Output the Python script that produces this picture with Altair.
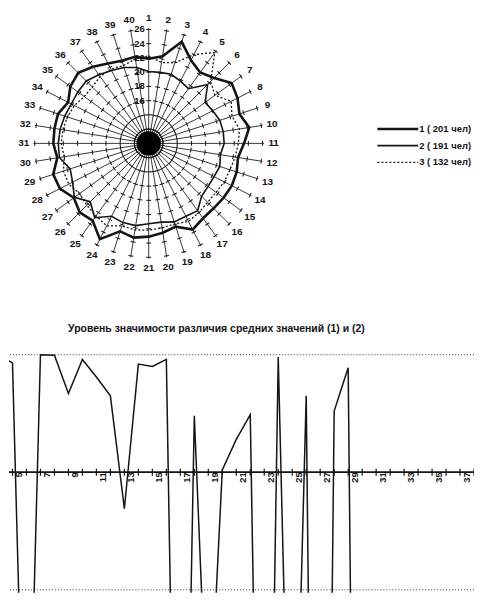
import altair as alt
import pandas as pd

# ---------------- data ----------------
spokes = list(range(1, 41))
series_names = ["1 ( 201 чел)", "2 ( 191 чел)", "3 ( 132 чел)"]
g1 = [21.9, 22.4, 25.0, 23.1, 22.3, 23.0, 24.4, 24.0, 23.4, 24.3,
      23.4, 22.7, 23.0, 23.1, 23.0, 22.9, 23.0, 23.6, 22.3, 22.7,
      23.1, 23.4, 23.0, 25.1, 23.4, 23.7, 23.0, 24.0, 24.1, 23.0,
      23.4, 23.4, 23.4, 22.7, 23.6, 24.0, 23.3, 22.6, 22.2, 22.3]
g2 = [20.1, 20.1, 20.2, 19.8, 19.5, 21.7, 19.8, 20.1, 20.5, 20.6,
      20.6, 20.2, 20.5, 20.3, 20.3, 20.5, 21.7, 21.5, 21.6, 21.2,
      21.3, 21.7, 21.7, 21.5, 22.9, 21.6, 22.9, 22.0, 21.6, 22.7,
      22.7, 22.6, 22.4, 22.2, 22.3, 22.4, 21.9, 21.5, 21.2, 20.8]
g3 = [22.3, 21.5, 21.9, 24.0, 25.8, 22.3, 21.5, 23.0, 22.3, 22.9,
      22.6, 22.3, 22.0, 21.9, 21.7, 21.7, 22.0, 22.3, 21.9, 22.0,
      22.2, 22.3, 22.2, 23.0, 22.6, 22.3, 22.0, 22.6, 22.6, 22.0,
      22.3, 22.2, 22.0, 21.7, 21.2, 21.2, 21.6, 21.7, 21.5, 22.0]
scale_ticks = [12, 14, 16, 18, 20, 22, 24, 26]
scale_labels = [16, 18, 20, 22, 24, 26]
scale_min = [10]

sig_x = list(range(4, 31))
sig_y = [1.0, 0.93, -3.5, 1.0, 0.995, 0.67, 0.96, 0.81, 0.65, -0.31,
         0.92, 0.90, 0.96, -6.0, 0.48, -2.4, 0.02, 0.28, 0.49, -6.5,
         0.98, -3.9, 0.65, -10.5, 0.52, 0.89, -10.9]
limits = [1, -1]
axis_ticks = list(range(5, 39))
axis_labels = list(range(5, 38, 2))
title_text = "Уровень значимости различия средних значений (1) и (2)"

# ---------------- helpers ----------------
FONT = "Liberation Sans"
INK = "#141414"
PX_PER_UNIT = 7.15
V0 = 10
SPOKE_END = 26.2
LABEL_R = 27.55
STYLES = [dict(strokeWidth=2.6), dict(strokeWidth=1.6), dict(strokeWidth=1.3, strokeDash=[2, 2])]


def xexpr(v):
    return f"({v} - {V0}) * {PX_PER_UNIT} * sin((datum.k - 1) * PI / 20)"


def yexpr(v):
    return f"({v} - {V0}) * {PX_PER_UNIT} * cos((datum.k - 1) * PI / 20)"


rx = alt.Scale(domain=[-140.3, 159.7], nice=False, zero=False)
ry = alt.Scale(domain=[-155.3, 134.7], nice=False, zero=False)


def X(f):
    return alt.X(f, scale=rx, axis=None)


def Y(f):
    return alt.Y(f, scale=ry, axis=None)


# ---------------- radar ----------------
spoke_df = pd.DataFrame({"k": spokes})
tick_df = pd.DataFrame([{"k": k, "value": v} for k in spokes for v in scale_ticks])
slab_df = pd.DataFrame({"k": [1] * len(scale_labels), "value": scale_labels})
center_df = pd.DataFrame({"k": [1], "value": scale_min})

spoke_layer = alt.Chart(spoke_df).transform_calculate(
    x0="0", y0="0", ex=xexpr(SPOKE_END), ey=yexpr(SPOKE_END)
).mark_rule(color=INK, strokeWidth=0.85).encode(
    x=X("x0:Q"), y=Y("y0:Q"), x2="ex:Q", y2="ey:Q"
)

tick_layer = alt.Chart(tick_df).transform_calculate(
    px=xexpr("datum.value"), py=yexpr("datum.value"), deg="(datum.k - 1) * 9"
).mark_point(shape="M-1,0L1,0", size=25, filled=False, color=INK, strokeWidth=1, opacity=1).encode(
    x=X("px:Q"), y=Y("py:Q"), angle=alt.Angle("deg:Q", scale=None)
)

center_layer = alt.Chart(center_df).transform_calculate(
    px=xexpr("datum.value"), py=yexpr("datum.value")
).mark_circle(size=600, color="#000", opacity=1).encode(x=X("px:Q"), y=Y("py:Q"))

poly_layers = []
for name, vals, st in zip(series_names, [g1, g2, g3], STYLES):
    ks = spokes + [spokes[0]]
    vv = vals + [vals[0]]
    df = pd.DataFrame({"k": ks, "value": vv, "ord": list(range(len(ks)))})
    poly_layers.append(
        alt.Chart(df).transform_calculate(
            px=xexpr("datum.value"), py=yexpr("datum.value")
        ).mark_line(color=INK, strokeJoin="miter", **st).encode(
            x=X("px:Q"), y=Y("py:Q"), order="ord:Q"
        )
    )

spoke_lab = alt.Chart(spoke_df).transform_calculate(
    px=xexpr(LABEL_R), py=yexpr(LABEL_R)
).mark_text(font=FONT, fontSize=10, fontWeight="bold", color=INK, baseline="middle").encode(
    x=X("px:Q"), y=Y("py:Q"), text="k:N"
)

scale_lab = alt.Chart(slab_df).transform_calculate(
    px=xexpr("datum.value"), py=yexpr("datum.value")
).mark_text(font=FONT, fontSize=9.5, fontWeight="bold", color=INK, align="right", dx=-4, baseline="middle").encode(
    x=X("px:Q"), y=Y("py:Q"), text="value:N"
)

radar = alt.layer(spoke_layer, tick_layer, center_layer, *poly_layers, spoke_lab, scale_lab).properties(
    width=300, height=290
)

# ---------------- legend panel ----------------
ly_scale = alt.Scale(domain=[-7.204, 10.162], nice=False, zero=False, reverse=True)
leg_layers = []
for i, (name, st) in enumerate(zip(series_names, STYLES)):
    d = pd.DataFrame({"row": [i], "series": [name]})
    leg_layers.append(
        alt.Chart(d).mark_rule(color=INK, **st).encode(
            x=alt.value(70), x2=alt.value(111), y=alt.Y("row:Q", scale=ly_scale, axis=None)
        )
    )
    leg_layers.append(
        alt.Chart(d).mark_text(
            font=FONT, fontSize=9.5, fontWeight="bold", color=INK, align="left", baseline="middle", clip=True
        ).encode(x=alt.value(112), y=alt.Y("row:Q", scale=ly_scale, axis=None), text="series:N")
    )
legend = alt.layer(*leg_layers).properties(width=167, height=290)

top = alt.hconcat(radar, legend, spacing=0)

# ---------------- significance chart ----------------
xs = alt.Scale(domain=[4.751, 37.997], nice=False, zero=False)
ys = alt.Scale(domain=[-1.025, 1.025], nice=False, zero=False)

sig_df = pd.DataFrame({"x": sig_x, "y": sig_y})
lim_df = pd.DataFrame({"lim": limits})
tk_df = pd.DataFrame({"t": axis_ticks})
lb_df = pd.DataFrame({"t": axis_labels})

lim_layer = alt.Chart(lim_df).mark_rule(color="#333", strokeDash=[1, 2], strokeWidth=1).encode(
    y=alt.Y("lim:Q", scale=ys, axis=None)
)
zero_layer = alt.Chart(lim_df).transform_calculate(z="0").mark_rule(color=INK, strokeWidth=1.3).encode(
    y=alt.Y("z:Q", scale=ys, axis=None)
)
tk_layer = alt.Chart(tk_df).transform_calculate(z="0").mark_point(
    shape="M0,-1L0,1", size=49, filled=False, color=INK, strokeWidth=1.2, opacity=1, clip=True
).encode(x=alt.X("t:Q", scale=xs, axis=None), y=alt.Y("z:Q", scale=ys, axis=None))
lb_layer = alt.Chart(lb_df).transform_calculate(z="0").mark_text(
    font=FONT, fontSize=9.5, fontWeight="bold", color=INK, angle=270, align="right", baseline="middle", dy=7
).encode(x=alt.X("t:Q", scale=xs, axis=None), y=alt.Y("z:Q", scale=ys, axis=None), text="t:N")
line_layer = alt.Chart(sig_df).mark_line(color=INK, strokeWidth=1.5, clip=True).encode(
    x=alt.X("x:Q", scale=xs, axis=None), y=alt.Y("y:Q", scale=ys, axis=None)
)

bottom = alt.layer(lim_layer, zero_layer, tk_layer, lb_layer, line_layer).properties(
    width=467, height=242,
    title=alt.TitleParams(title_text, font=FONT, fontSize=10.5, fontWeight="bold", color=INK,
                          anchor="start", dx=60, offset=17),
)

chart = alt.vconcat(top, bottom, spacing=26).properties(padding=0).configure_view(stroke=None)
chart.save("out.html", embed_options={"renderer": "svg", "actions": False})
